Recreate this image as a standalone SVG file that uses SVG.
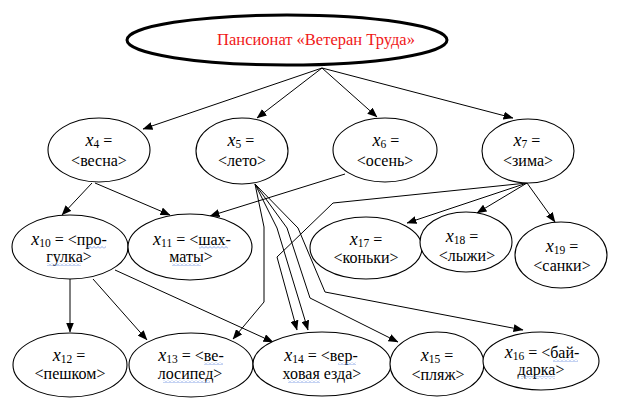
<svg xmlns="http://www.w3.org/2000/svg" width="620" height="408" viewBox="0 0 620 408">
<style>
.n ellipse{fill:#fff;stroke:#000;stroke-width:1.1}
text{font-family:'Liberation Serif','DejaVu Serif',serif;font-size:16px;text-anchor:middle;fill:#000}
.v{font-style:italic;font-size:18px}
.s{font-size:11.5px}
.c path{fill:none;stroke:#000;stroke-width:1;marker-end:url(#a)}
.q{fill:url(#sq)}
</style>
<defs>
<marker id="a" markerWidth="10" markerHeight="8" refX="9.5" refY="4" orient="auto" markerUnits="userSpaceOnUse"><path d="M0,0 L10,4 L0,8 z" fill="#000"/></marker>
<pattern id="sq" width="4" height="3" patternUnits="userSpaceOnUse"><path d="M0,2.5 L2,0.5 L4,2.5" fill="none" stroke="#6b8fe0" stroke-width="0.8"/></pattern>
</defs>
<g id="root" class="n">
<ellipse cx="287" cy="40" rx="160" ry="25" style="stroke-width:3"/>
<text x="316" y="45" style="fill:#f01818;font-size:16.5px">Пансионат «Ветеран Труда»</text>
</g>
<g id="connectors" class="c">
<path d="M322,68 L143,129"/>
<path d="M322,68 L257,118"/>
<path d="M322,68 L377,117"/>
<path d="M322,68 L513,118"/>
<path d="M92,183 L62,215"/>
<path d="M95,183 L170,215"/>
<path d="M345,174 L210,216"/>
<path d="M70,279 L70,332"/>
<path d="M93,279 L147,340"/>
<path d="M115,270 L273,342"/>
<path d="M255,184 L264,227 L264,302 L233,339"/>
<path d="M255,184 L277,228 L308,330"/>
<path d="M255,184 L287,228 L310,298 L398,342"/>
<path d="M255,184 L298,228 L325,292 L523,330"/>
<path d="M527,183 L333,203 L277,257 L297,330"/>
<path d="M527,183 L407,223"/>
<path d="M527,183 L477,213"/>
<path d="M527,183 L555,222"/>
</g>
<g id="x4" class="n"><ellipse cx="99" cy="150" rx="51" ry="32"/>
<text x="99" y="146"><tspan class="v">x</tspan><tspan class="s" dy="2">4</tspan><tspan dy="-2"> =</tspan></text>
<text x="99" y="166">&lt;весна&gt;</text></g>
<g id="x5" class="n"><ellipse cx="242" cy="151" rx="46" ry="33"/>
<text x="241" y="146"><tspan class="v">x</tspan><tspan class="s" dy="2">5</tspan><tspan dy="-2"> =</tspan></text>
<text x="242" y="166">&lt;лето&gt;</text></g>
<g id="x6" class="n"><ellipse cx="385" cy="150" rx="52" ry="32"/>
<text x="386" y="146"><tspan class="v">x</tspan><tspan class="s" dy="2">6</tspan><tspan dy="-2"> =</tspan></text>
<text x="385" y="166">&lt;осень&gt;</text></g>
<g id="x7" class="n"><ellipse cx="528" cy="151" rx="46" ry="32"/>
<text x="527" y="146"><tspan class="v">x</tspan><tspan class="s" dy="2">7</tspan><tspan dy="-2"> =</tspan></text>
<text x="528" y="166">&lt;зима&gt;</text></g>
<g id="x10" class="n"><ellipse cx="70" cy="247" rx="58" ry="32"/>
<text x="69" y="245"><tspan class="v">x</tspan><tspan class="s" dy="2">10</tspan><tspan dy="-2"> = &lt;про-</tspan></text>
<text x="69" y="262">гулка&gt;</text>
<rect class="q" x="86" y="246" width="20" height="3"/><rect class="q" x="47" y="263" width="34" height="3"/></g>
<g id="x11" class="n"><ellipse cx="190" cy="247" rx="62" ry="33"/>
<text x="192" y="245"><tspan class="v">x</tspan><tspan class="s" dy="2">11</tspan><tspan dy="-2"> = &lt;шах-</tspan></text>
<text x="191" y="262">маты&gt;</text>
<rect class="q" x="199" y="246" width="29" height="3"/><rect class="q" x="172" y="263" width="29" height="3"/></g>
<g id="x17" class="n"><ellipse cx="366" cy="248" rx="56" ry="31"/>
<text x="366" y="245"><tspan class="v">x</tspan><tspan class="s" dy="2">17</tspan><tspan dy="-2"> =</tspan></text>
<text x="366" y="263">&lt;коньки&gt;</text></g>
<g id="x18" class="n"><ellipse cx="466" cy="242" rx="46" ry="30"/>
<text x="462" y="242"><tspan class="v">x</tspan><tspan class="s" dy="2">18</tspan><tspan dy="-2"> =</tspan></text>
<text x="467" y="261">&lt;лыжи&gt;</text></g>
<g id="x19" class="n"><ellipse cx="561" cy="255" rx="46" ry="33"/>
<text x="562" y="252"><tspan class="v">x</tspan><tspan class="s" dy="2">19</tspan><tspan dy="-2"> =</tspan></text>
<text x="562" y="271">&lt;санки&gt;</text></g>
<g id="x12" class="n"><ellipse cx="70" cy="365" rx="57" ry="32"/>
<text x="69" y="361"><tspan class="v">x</tspan><tspan class="s" dy="2">12</tspan><tspan dy="-2"> =</tspan></text>
<text x="70" y="379">&lt;пешком&gt;</text></g>
<g id="x13" class="n"><ellipse cx="191" cy="365" rx="62" ry="32"/>
<text x="191" y="361"><tspan class="v">x</tspan><tspan class="s" dy="2">13</tspan><tspan dy="-2"> = &lt;ве-</tspan></text>
<text x="190" y="379">лосипед&gt;</text>
<rect class="q" x="204" y="362" width="19" height="3"/><rect class="q" x="163" y="380" width="47" height="3"/></g>
<g id="x14" class="n"><ellipse cx="322" cy="364" rx="69" ry="32"/>
<text x="321" y="361"><tspan class="v">x</tspan><tspan class="s" dy="2">14</tspan><tspan dy="-2"> = &lt;вер-</tspan></text>
<text x="322" y="379">ховая езда&gt;</text>
<rect class="q" x="338" y="362" width="18" height="3"/><rect class="q" x="288" y="380" width="32" height="3"/></g>
<g id="x15" class="n"><ellipse cx="437" cy="364" rx="47" ry="32"/>
<text x="437" y="361"><tspan class="v">x</tspan><tspan class="s" dy="2">15</tspan><tspan dy="-2"> =</tspan></text>
<text x="438" y="380">&lt;пляж&gt;</text></g>
<g id="x16" class="n"><ellipse cx="541" cy="361" rx="58" ry="29"/>
<text x="542" y="358"><tspan class="v">x</tspan><tspan class="s" dy="2">16</tspan><tspan dy="-2"> = &lt;бай-</tspan></text>
<text x="541" y="375">дарка&gt;</text>
<rect class="q" x="553" y="359" width="25" height="3"/><rect class="q" x="521" y="376" width="34" height="3"/></g>
</svg>
